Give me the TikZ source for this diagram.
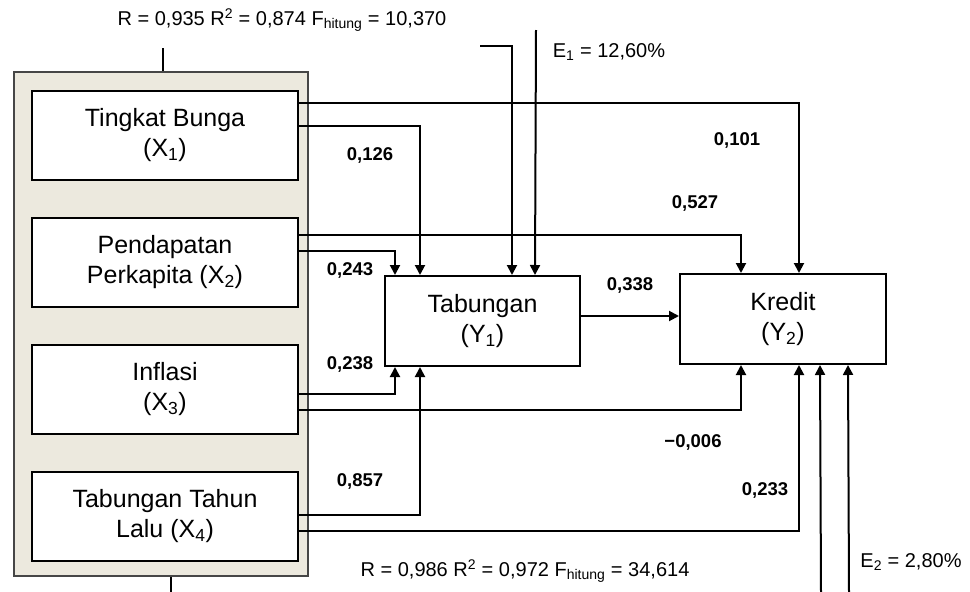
\documentclass[tikz,border=0pt]{standalone}
\usepackage{fontspec}
\setmainfont{Liberation Sans}
\usepackage{xcolor}
\definecolor{groupfill}{RGB}{236,233,222}
\definecolor{groupline}{RGB}{70,70,70}
\usepackage{tikz}
\usetikzlibrary{positioning, calc, arrows.meta}

\begin{document}
\begin{tikzpicture}[x=1pt, y=-1pt, node distance=36pt]

  \tikzstyle{varbox} = [
    draw, line width=2pt, fill=white,
    minimum width=266pt, minimum height=89pt,
    align=center, inner sep=0pt,
    font=\fontsize{25}{30}\selectfont
  ]
  \tikzstyle{groupbox} = [
    draw=groupline, line width=2.2pt, fill=groupfill,
    minimum width=294pt, minimum height=504pt, inner sep=0pt
  ]
  \tikzstyle{coef} = [font=\bfseries\fontsize{18.5}{20}\selectfont, inner sep=0pt]
  \tikzstyle{stat} = [font=\fontsize{20}{22}\selectfont, inner sep=0pt]
  \tikzstyle{arr} = [line width=2pt, -{Triangle[length=10pt,width=10pt]}]

  \useasboundingbox (0,0) rectangle (970,592);

  % independent variables
  \node[groupbox] (group) at (161,324) {};

  \node[varbox] (x1) at (165,135.5)
    {Tingkat Bunga\\(X\textsubscript{1})};
  \node[varbox, below=of x1] (x2)
    {Pendapatan\\Perkapita (X\textsubscript{2})};
  \node[varbox, below=of x2] (x3)
    {Inflasi\\(X\textsubscript{3})};
  \node[varbox, below=of x3] (x4)
    {Tabungan Tahun\\Lalu (X\textsubscript{4})};

  % dependent variables
  \node[varbox, minimum width=195pt, minimum height=90pt] (y1) at (482.5,321)
    {Tabungan\\(Y\textsubscript{1})};
  \node[varbox, minimum width=206pt, minimum height=90pt] (y2) at (783,319)
    {Kredit\\(Y\textsubscript{2})};

  % model statistics
  \node[stat] (r1) at (282,20)
    {R = 0,935 R\textsuperscript{2} = 0,874 F\textsubscript{hitung} = 10,370};
  \node[stat] (r2) at (525,571)
    {R = 0,986 R\textsuperscript{2} = 0,972 F\textsubscript{hitung} = 34,614};
  \node[stat] (e1) at (609,52) {E\textsubscript{1} = 12,60\%};
  \node[stat] (e2) at (911,562) {E\textsubscript{2} = 2,80\%};

  \coordinate (rtop) at (163,48);
  \coordinate (rbot) at (171,592);
  \draw[line width=2pt] (rtop) -- (group.north -| rtop);
  \draw[line width=2pt] (group.south -| rbot) -- (rbot);

  % paths
  \draw[arr] ($(x1.north east)+(0,13)$) -| ($(y2.north west)+(120,0)$);
  \draw[arr] ($(x1.north east)+(0,36)$) -| ($(y1.north west)+(36,0)$);
  \draw[arr] ($(x2.north east)+(0,18)$) -| ($(y2.north west)+(62,0)$);
  \draw[arr] ($(x2.north east)+(0,34)$) -| ($(y1.north west)+(11,0)$);
  \draw[arr] ($(x3.north east)+(0,50)$) -| ($(y1.south west)+(11,0)$);
  \draw[arr] ($(x3.north east)+(0,66)$) -| ($(y2.south west)+(62,0)$);
  \draw[arr] ($(x4.north east)+(0,44)$) -| ($(y1.south west)+(36,0)$);
  \draw[arr] ($(x4.north east)+(0,60)$) -| ($(y2.south west)+(120,0)$);
  \draw[arr] ($(y1.east)+(0,-5)$) -- ($(y1.east -| y2.west)+(0,-5)$);

  % errors
  \coordinate (e1a) at (480,46);
  \coordinate (e1b) at (536,30);
  \coordinate (e2a) at (821,592);
  \coordinate (e2b) at (849,592);
  \draw[arr] (e1a) -| ($(y1.north west)+(128,0)$);
  \draw[arr] (e1b) -- ($(y1.north west)+(151,0)$);
  \draw[arr] (e2a) -- ($(y2.south west)+(141,0)$);
  \draw[arr] (e2b) -- ($(y2.south west)+(169,0)$);

  % coefficients
  \node[coef] (c101) at (737,140) {0,101};
  \node[coef] (c126) at (370,155) {0,126};
  \node[coef] (c527) at (695,203) {0,527};
  \node[coef] (c243) at (350,270) {0,243};
  \node[coef] (c338) at (630,285) {0,338};
  \node[coef] (c238) at (350,364) {0,238};
  \node[coef] (c006) at (693,442) {−0,006};
  \node[coef] (c857) at (360,481) {0,857};
  \node[coef] (c233) at (765,490) {0,233};

\end{tikzpicture}
\end{document}
